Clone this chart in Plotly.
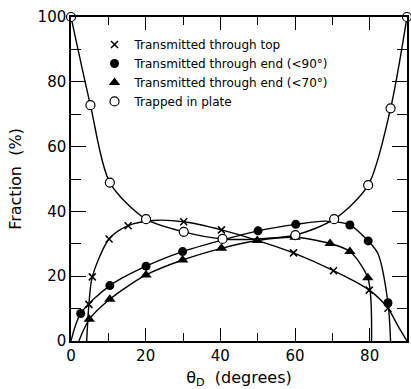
import plotly.graph_objects as go

# Measured fractions (%) versus detection angle theta_D (degrees)
top_theta = [4.8, 5.7, 10.2, 15.3, 30.2, 40.3, 59.6, 70.3, 79.9, 84.9]
top_frac = [11.3, 19.8, 31.5, 35.6, 36.8, 34.3, 27.2, 21.7, 15.7, 10.1]

end90_theta = [2.6, 10.4, 20.1, 29.9, 50.1, 60.2, 74.7, 79.6, 84.9]
end90_frac = [8.5, 17.1, 23.1, 27.6, 34.0, 36.0, 35.8, 30.9, 11.8]

end70_theta = [4.9, 10.4, 20.1, 29.9, 40.3, 49.9, 60.0, 69.4, 74.7, 79.5]
end70_frac = [6.7, 12.9, 20.4, 25.0, 28.6, 31.0, 32.0, 30.1, 27.6, 19.5]

trap_theta = [0, 5.2, 10.4, 20.1, 30.2, 40.6, 60.1, 70.5, 79.6, 85.6, 90]
trap_frac = [100, 72.8, 48.9, 37.6, 33.7, 31.5, 32.7, 37.6, 48.1, 71.8, 100]

# Smooth guide curves drawn through the data
top_fit_theta = [4.2, 4.8, 5.7, 10.2, 15.3, 22, 30.2, 40.3, 50, 59.6, 70.3, 79.9, 84.9, 87.6, 90]
top_fit_frac = [0, 11.3, 19.8, 31.5, 35.6, 37.2, 36.8, 34.3, 31.0, 27.2, 21.7, 15.7, 10.1, 4.6, 0]

end90_fit_theta = [0, 2.6, 10.4, 20.1, 29.9, 40, 50.1, 60.2, 68, 74.7, 79.6, 82.2, 84.9, 85.6]
end90_fit_frac = [0, 8.5, 17.1, 23.1, 27.6, 31.0, 34.0, 36.0, 37.0, 35.8, 30.9, 27.0, 11.8, 0]

end70_fit_theta = [2.1, 4.9, 10.4, 20.1, 29.9, 40.3, 49.9, 60.0, 69.4, 74.7, 79.5, 80.5]
end70_fit_frac = [0, 6.7, 12.9, 20.4, 25.0, 28.6, 31.0, 32.0, 30.1, 27.6, 19.5, 0]

trap_fit_theta = [0, 5.2, 10.4, 20.1, 30.2, 40.6, 50, 60.1, 70.5, 79.6, 85.6, 90]
trap_fit_frac = [100, 72.8, 48.9, 37.6, 33.7, 31.5, 31.5, 32.7, 37.6, 48.1, 71.8, 100]

x_ticks = [0, 20, 40, 60, 80]
y_ticks = [0, 20, 40, 60, 80, 100]

series = [
    ("Transmitted through top", top_theta, top_frac, top_fit_theta, top_fit_frac,
     dict(symbol="x-thin-open", size=7, color="black", line=dict(color="black", width=1.5))),
    ("Transmitted through end (<90°)", end90_theta, end90_frac, end90_fit_theta, end90_fit_frac,
     dict(symbol="circle", size=9, color="black", line=dict(color="black", width=0))),
    ("Transmitted through end (<70°)", end70_theta, end70_frac, end70_fit_theta, end70_fit_frac,
     dict(symbol="triangle-up", size=10, color="black", line=dict(color="black", width=0))),
    ("Trapped in plate", trap_theta, trap_frac, trap_fit_theta, trap_fit_frac,
     dict(symbol="circle", size=9, color="white", line=dict(color="black", width=1.2))),
]

fig = go.Figure()

for name, tx, ty, fx, fy, mk in series:
    fig.add_trace(go.Scatter(
        x=fx, y=fy, mode="lines", showlegend=False, hoverinfo="skip",
        line=dict(color="black", width=1.4, shape="spline", smoothing=0.8),
    ))

for name, tx, ty, fx, fy, mk in series:
    fig.add_trace(go.Scatter(
        x=tx, y=ty, mode="markers", name=name, marker=mk, cliponaxis=False,
    ))

font = "DejaVu Sans, Arial, sans-serif"

fig.update_layout(
    width=411, height=389,
    margin=dict(l=71, r=2, t=17, b=48),
    paper_bgcolor="white", plot_bgcolor="white",
    font=dict(family=font, color="black", size=15),
    legend=dict(
        x=0.07, y=0.96, xanchor="left", yanchor="top",
        bgcolor="rgba(0,0,0,0)", borderwidth=0,
        font=dict(family=font, size=12, color="black"),
        tracegroupgap=0, itemwidth=30,
    ),
    xaxis=dict(
        range=[0, 90], tickvals=x_ticks, ticktext=[str(v) for v in x_ticks],
        ticks="inside", ticklen=13, tickwidth=1.2, tickcolor="black",
        minor=dict(dtick=10, tick0=0, ticks="inside", ticklen=8, tickwidth=1.2, tickcolor="black"),
        showline=True, linecolor="black", linewidth=1.5, mirror="allticks",
        showgrid=False, zeroline=False,
        title=dict(text="θ<sub>D</sub>  (degrees)", standoff=8, font=dict(size=16)),
    ),
    yaxis=dict(
        range=[0, 100], tickvals=y_ticks, ticktext=[str(v) for v in y_ticks],
        ticks="inside", ticklen=15, tickwidth=1.2, tickcolor="black",
        minor=dict(dtick=10, tick0=0, ticks="inside", ticklen=10, tickwidth=1.2, tickcolor="black"),
        showline=True, linecolor="black", linewidth=1.5, mirror="allticks",
        showgrid=False, zeroline=False,
        title=dict(text="Fraction  (%)", standoff=12, font=dict(size=16)),
    ),
)

fig.write_html("out.html")
